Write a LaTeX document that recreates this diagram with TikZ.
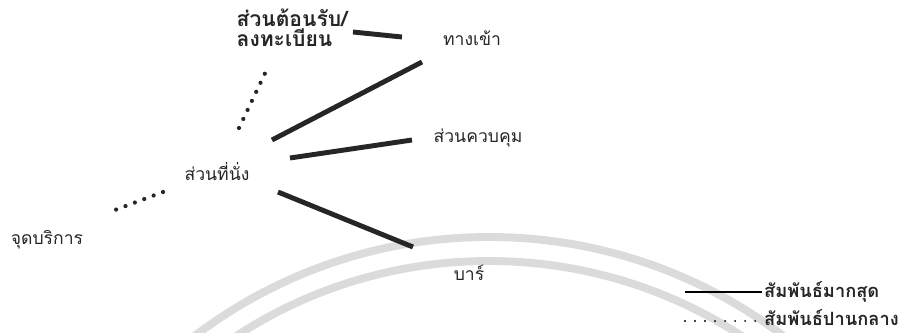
\documentclass[tikz,border=0pt]{standalone}
\usepackage{fontspec}
\setmainfont[Script=Thai]{Loma}
\usetikzlibrary{calc}

\tikzset{
  zone/.style={text=black!85,font=\fontsize{10}{11}\selectfont,inner sep=1pt},
  keytext/.style={zone,anchor=west,font=\fontsize{10.4}{11}\selectfont\bfseries},
  strong/.style={line width=2.8pt,black!85},
  medium/.style={line width=2.4pt,black!85,line cap=round,dash pattern=on 0pt off 5.7pt},
}

\begin{document}
\begin{tikzpicture}[x=0.02cm,y=-0.02cm]
\useasboundingbox (0,0) rectangle (900,332);

% watermark
\draw[black!14,line width=4.5pt] (489,724) circle (487);
\draw[black!14,line width=4.5pt] (489,724) circle (463);

% zones
\node[zone,align=left,font=\fontsize{12}{10}\selectfont\bfseries] (recep) at (292,28) {ส่วนต้อนรับ/\\ลงทะเบียน};
\node[zone] (entr) at (472,38) {ทางเข้า};
\node[zone] (ctrl) at (478,138) {ส่วนควบคุม};
\node[zone] (seat) at (217,172) {ส่วนที่นั่ง};
\node[zone] (serv) at (47,240) {จุดบริการ};
\node[zone] (bar) at (469,273) {บาร์};

\draw[strong] ($(recep)+(61,4)$) -- ($(entr)+(-70,-1)$);
\draw[strong] ($(seat)+(55,-32)$) -- ($(entr)+(-50,24)$);
\draw[strong] ($(seat)+(73,-14)$) -- ($(ctrl)+(-66,2)$);
\draw[strong] ($(seat)+(61,20)$) -- ($(bar)+(-56,-26)$);
\draw[medium] ($(seat)+(22,-44)$) -- ($(recep)+(-24,39)$);
\draw[medium] ($(seat)+(-54,20)$) -- ($(serv)+(60,-27)$);

% legend
\node[keytext] (most) at (762,292) {สัมพันธ์มากสุด};
\node[keytext] (mid) at (762,318) {สัมพันธ์ปานกลาง};
\draw[line width=1.5pt] ($(most.west)+(-77,0)$) -- (most.west);
\draw[line width=1.2pt,line cap=round,dash pattern=on 0pt off 5.7pt] ($(mid.west)+(-77,3)$) -- ($(mid.west)+(0,3)$);

\end{tikzpicture}
\end{document}
